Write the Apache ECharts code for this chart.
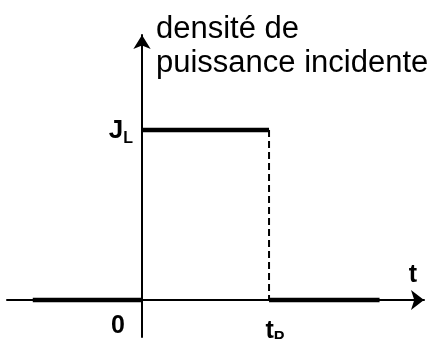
<!DOCTYPE html>
<html>
<head>
<meta charset="utf-8">
<script src="https://cdn.jsdelivr.net/npm/echarts@6/dist/echarts.min.js"></script>
<style>
  html, body { margin: 0; padding: 0; background: #fff; }
  #main { width: 432px; height: 339px; }
</style>
</head>
<body>
<div id="main"></div>
<script>
// time in units of tP, power density in units of J_L
var offBefore = [[-0.86, 0], [0, 0]];
var pulseOn = [[0, 1], [1, 1]];
var fallEdge = [[1, 1], [1, 0]];
var offAfter = [[1, 0], [1.87, 0]];
var xTicks = [0, 1];
var yTicks = [1];

var font = 'Liberation Sans, Arial, sans-serif';
var myChart = echarts.init(document.getElementById('main'), null, { renderer: 'canvas' });

var thick = { color: '#000', width: 4.5 };

var option = {
    animation: false,
    backgroundColor: '#fff',
    grid: { left: 7, right: 8, top: 35, bottom: 2, containLabel: false, outerBoundsMode: 'none' },
    xAxis: {
        type: 'value',
        min: -1.063,
        max: 2.22,
        offset: -37,
        name: 't',
        nameLocation: 'end',
        nameGap: -11,
        nameTextStyle: {
            color: '#000', fontFamily: font, fontSize: 25, fontWeight: 'bold', lineHeight: 25,
            align: 'center', verticalAlign: 'bottom', padding: [0, 0, 12, 0]
        },
        axisLine: {
            onZero: false,
            lineStyle: { color: '#000', width: 2 },
            symbol: ['none', 'arrow'],
            symbolSize: [15, 13]
        },
        axisTick: { show: false },
        splitLine: { show: false },
        axisLabel: {
            customValues: xTicks,
            margin: 12,
            lineHeight: 10,
            color: '#000',
            fontFamily: font,
            formatter: function (v) {
                // tP sits lower than 0 in the original
                return v === 0 ? '{z|0}' : '\n{t|t}{p|P}';
            },
            rich: {
                z: { fontSize: 25, fontWeight: 'bold', fontFamily: font, color: '#000', lineHeight: 28, padding: [0, 48, 0, 0] },
                t: { fontSize: 25, fontWeight: 'bold', fontFamily: font, color: '#000', lineHeight: 25, padding: [0, 0, 3, 12], verticalAlign: 'bottom' },
                p: { fontSize: 16, fontWeight: 'bold', fontFamily: font, color: '#000', lineHeight: 16, verticalAlign: 'bottom' }
            }
        }
    },
    yAxis: {
        type: 'value',
        min: -0.218,
        max: 1.559,
        offset: -135,
        name: 'densité de\npuissance incidente',
        nameLocation: 'end',
        nameGap: 23,
        nameTextStyle: {
            color: '#000', fontFamily: font, fontSize: 31, lineHeight: 34,
            align: 'left', verticalAlign: 'top', padding: [0, 0, 0, 14]
        },
        axisLine: {
            onZero: false,
            lineStyle: { color: '#000', width: 2 },
            symbol: ['none', 'arrow'],
            symbolSize: [13, 14]
        },
        axisTick: { show: false },
        splitLine: { show: false },
        axisLabel: {
            customValues: yTicks,
            margin: 9,
            lineHeight: 8,
            formatter: function () { return '\n{j|J}{l|L}'; },
            rich: {
                j: { fontSize: 26, fontWeight: 'bold', fontFamily: font, color: '#000', lineHeight: 26, padding: [0, 0, 3, 0], verticalAlign: 'bottom' },
                l: { fontSize: 16, fontWeight: 'bold', fontFamily: font, color: '#000', lineHeight: 16, verticalAlign: 'bottom' }
            }
        }
    },
    series: [
        { type: 'line', data: offBefore, symbol: 'none', lineStyle: thick },
        { type: 'line', data: pulseOn, symbol: 'none', lineStyle: thick },
        { type: 'line', data: offAfter, symbol: 'none', lineStyle: thick },
        { type: 'line', data: fallEdge, symbol: 'none', lineStyle: { color: '#000', width: 2, type: [7, 4] } }
    ]
};
myChart.setOption(option);
</script>
</body>
</html>
